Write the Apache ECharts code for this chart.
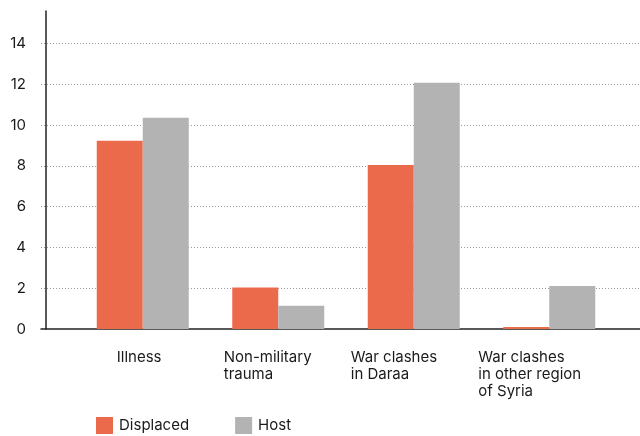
<!DOCTYPE html>
<html>
<head>
<meta charset="utf-8">
<script src="https://cdn.jsdelivr.net/npm/echarts@6/dist/echarts.min.js"></script>
<style>
  html, body { margin: 0; padding: 0; background: #fff; }
  #chart { width: 640px; height: 436px; }
</style>
</head>
<body>
<div id="chart"></div>
<script>
// data
const categories = ['Illness', 'Non-military\ntrauma', 'War clashes\nin Daraa', 'War clashes\nin other region\nof Syria'];
const displaced = [9.23, 2.03, 8.05, 0.1];
const host = [10.36, 1.14, 12.08, 2.11];
const yTicks = [0, 2, 4, 6, 8, 10, 12, 14];

// label blocks are left-aligned text, each block sits around its category
const labelWidths = [52, 109, 126, 142];

const chart = echarts.init(document.getElementById('chart'));
const font = 'Inter, "Noto Sans", sans-serif';

const rich = {};
labelWidths.forEach((w, i) => {
  rich['c' + i] = { width: w, align: 'left', fontSize: 15, lineHeight: 17, color: '#1a1a1a', fontFamily: font };
});

chart.setOption({
  animation: false,
  grid: [
    { left: 41, right: 0, top: 11, bottom: 107 },
    { left: 75, right: 23, top: 11, bottom: 107 }
  ],
  legend: {
    left: 96,
    top: 417,
    padding: 0,
    icon: 'rect',
    itemWidth: 17,
    itemHeight: 17,
    itemGap: 46,
    textStyle: { fontSize: 15, color: '#1a1a1a', fontFamily: font, padding: [0, 0, 0, 1] },
    data: ['Displaced', 'Host']
  },
  xAxis: [{
    type: 'category',
    gridIndex: 0,
    data: categories,
    axisLine: { lineStyle: { color: '#222', width: 1.5 } },
    axisTick: { show: false },
    axisLabel: { show: false }
  }, {
    type: 'category',
    gridIndex: 1,
    data: categories,
    axisLine: { show: false },
    axisTick: { show: false },
    axisLabel: {
      margin: 20,
      formatter: (v, i) => '{c' + i + '|' + v + '}',
      rich: rich
    }
  }],
  yAxis: [{
    type: 'value',
    gridIndex: 0,
    min: 0,
    max: 15.6,
    interval: 2,
    offset: -5,
    axisLine: { show: true, lineStyle: { color: '#222', width: 1.5 } },
    axisTick: { show: false },
    axisLabel: {
      margin: 20,
      showMaxLabel: false,
      fontSize: 15,
      color: '#1a1a1a',
      fontFamily: font,
      formatter: v => yTicks.indexOf(v) >= 0 ? String(v) : ''
    },
    splitLine: {
      show: true,
      showMinLine: false,
      showMaxLine: false,
      lineStyle: { color: '#999', type: [1, 2], width: 1 }
    }
  }, {
    type: 'value',
    gridIndex: 1,
    min: 0,
    max: 15.6,
    interval: 2,
    show: false,
    splitLine: { show: false }
  }],
  series: [{
    name: 'Displaced',
    type: 'bar',
    xAxisIndex: 1,
    yAxisIndex: 1,
    data: displaced,
    barWidth: 46,
    barGap: '0%',
    itemStyle: { color: '#EC6A4C' }
  }, {
    name: 'Host',
    type: 'bar',
    xAxisIndex: 1,
    yAxisIndex: 1,
    data: host,
    barWidth: 46,
    barGap: '0%',
    itemStyle: { color: '#B3B3B3' }
  }]
});
</script>
</body>
</html>
